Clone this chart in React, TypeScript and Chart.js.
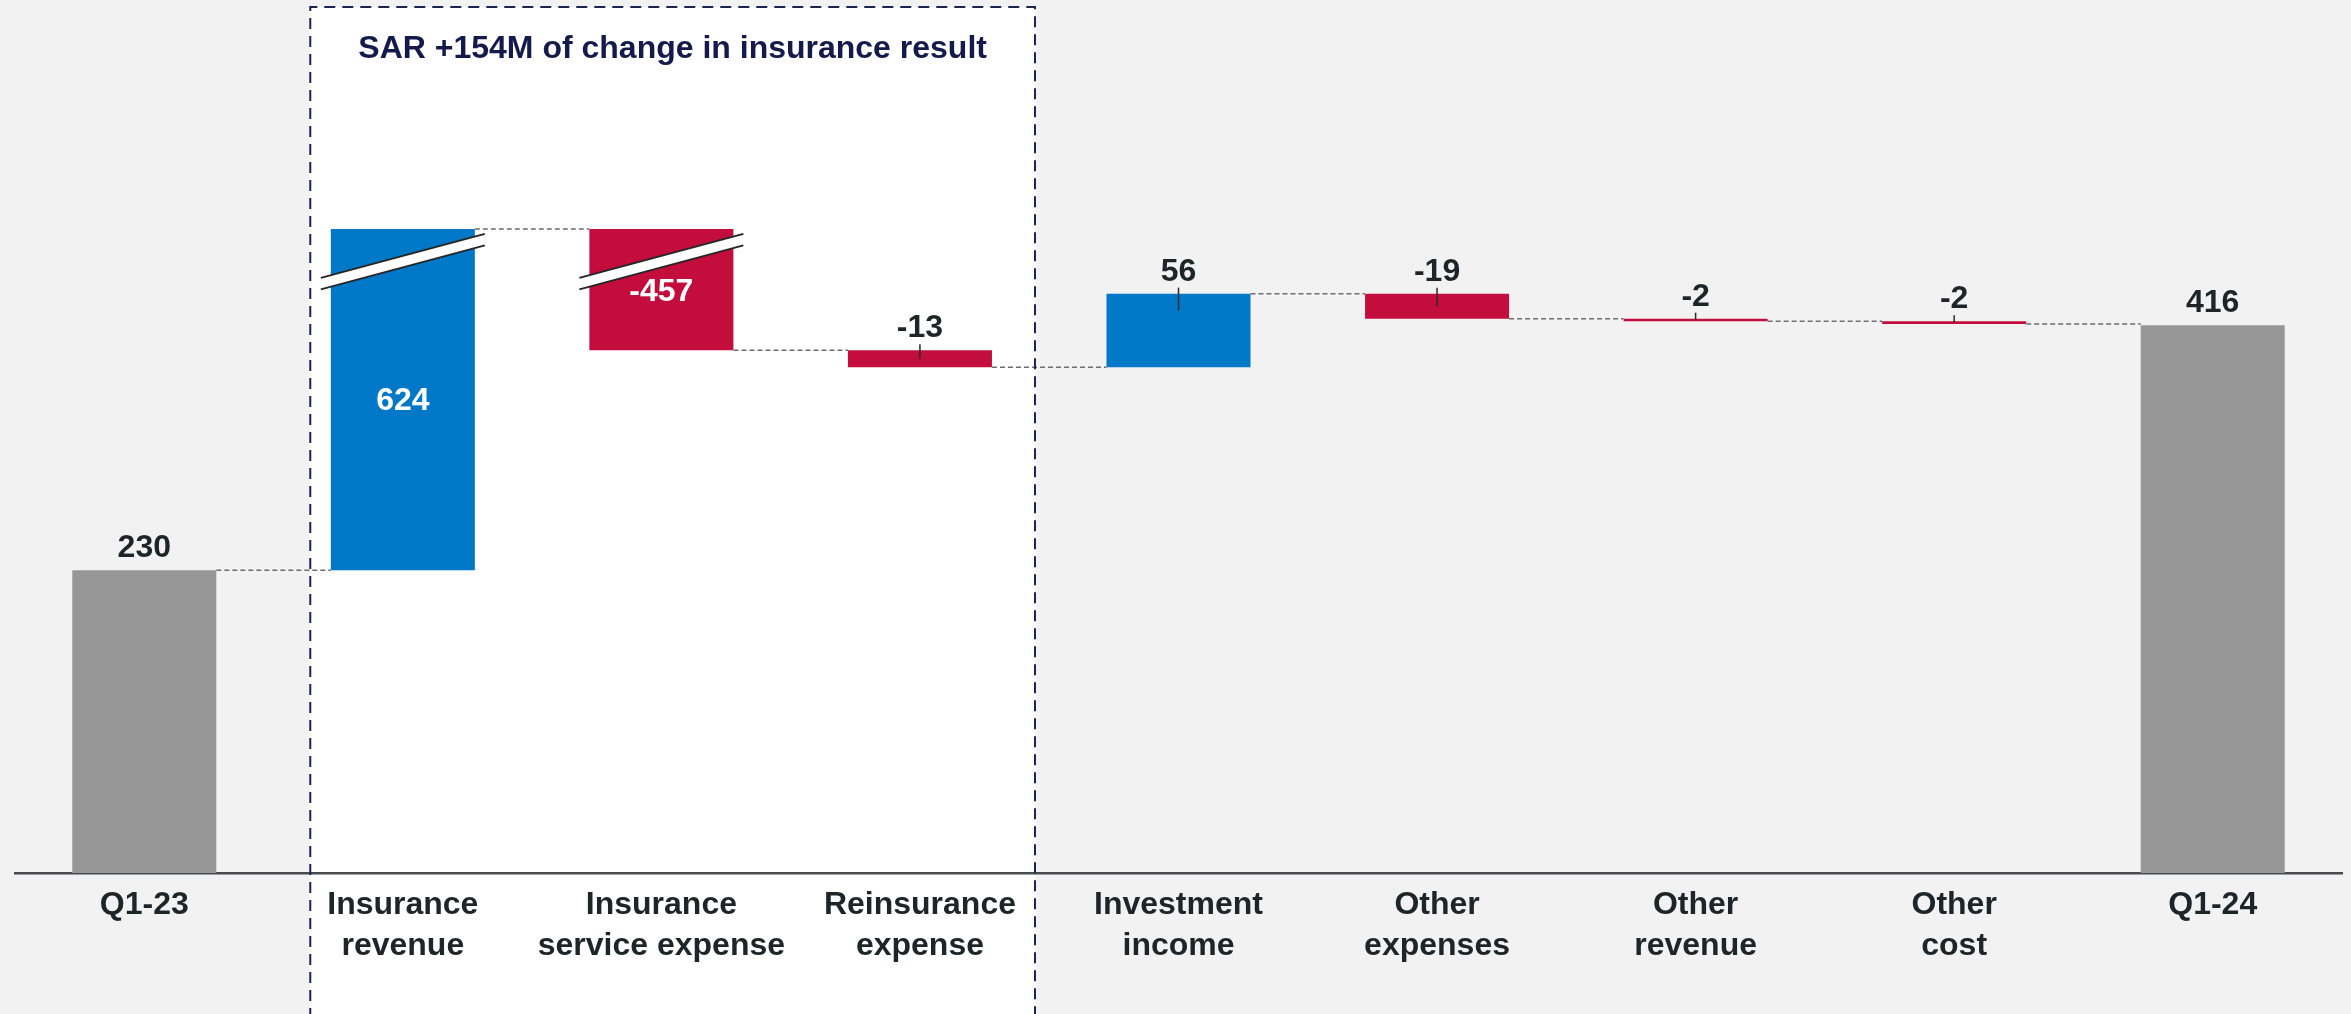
import React, { useEffect, useRef } from 'react';
import { Chart, registerables } from 'chart.js';

Chart.register(...registerables);

// ---- data ----
const categories: string[][] = [
  ['Q1-23'],
  ['Insurance', 'revenue'],
  ['Insurance', 'service expense'],
  ['Reinsurance', 'expense'],
  ['Investment', 'income'],
  ['Other', 'expenses'],
  ['Other', 'revenue'],
  ['Other', 'cost'],
  ['Q1-24'],
];
const values: number[] = [230, 624, -457, -13, 56, -19, -2, -2, 416];
const isTotal: boolean[] = [true, false, false, false, false, false, false, false, true];
const valueLabels: string[] = ['230', '624', '-457', '-13', '56', '-19', '-2', '-2', '416'];
const labelInside: boolean[] = [false, true, true, false, false, false, false, false, false];
// bars whose top is cut by an axis break, and the level where the cut top is shown
const brokenBars: number[] = [1, 2];
const brokenDisplayLevel = 489;
const titleText = 'SAR +154M of change in insurance result';
const yMin = 0;
const yMax = 663;

const COLOR_TOTAL = '#979797';
const COLOR_POS = '#0078c8';
const COLOR_NEG = '#c20d3d';
const FONT = "'Liberation Sans', Arial, Helvetica, sans-serif";

// build floating ranges
let running = 0;
const actualRanges: number[][] = values.map((v, i) => {
  if (isTotal[i]) {
    running = v;
    return [0, v];
  }
  const s = running;
  running += v;
  return [s, running];
});
const displayRanges: number[][] = actualRanges.map((r, i) => {
  if (!brokenBars.includes(i)) return r;
  const hi = Math.max(r[0], r[1]);
  return r.map((v) => (v === hi ? brokenDisplayLevel : v));
});
const barColors = values.map((v, i) => (isTotal[i] ? COLOR_TOTAL : v >= 0 ? COLOR_POS : COLOR_NEG));

const decorPlugin = {
  id: 'decor',
  beforeDraw(chart: any) {
    const { ctx, width, height } = chart;
    const xs = chart.scales.x;
    ctx.save();
    ctx.fillStyle = '#f2f2f2';
    ctx.fillRect(0, 0, width, height);
    const left = xs.getPixelForDecimal((0.642 + 0.5) / categories.length);
    const right = xs.getPixelForDecimal((3.445 + 0.5) / categories.length);
    ctx.fillStyle = '#ffffff';
    ctx.fillRect(left, 7, right - left, height);
    ctx.fillStyle = '#141a4a';
    ctx.font = `bold 32px ${FONT}`;
    ctx.textAlign = 'center';
    ctx.textBaseline = 'alphabetic';
    ctx.fillText(titleText, (left + right) / 2, 58);
    ctx.restore();
  },
  afterDatasetsDraw(chart: any) {
    const { ctx } = chart;
    const meta = chart.getDatasetMeta(0);
    const ys = chart.scales.y;
    ctx.save();
    // connectors
    ctx.strokeStyle = '#6e6e6e';
    ctx.lineWidth = 1.5;
    ctx.setLineDash([5, 3]);
    for (let i = 0; i < meta.data.length - 1; i++) {
      const a = meta.data[i];
      const b = meta.data[i + 1];
      const lvl = ys.getPixelForValue(displayRanges[i][1]);
      ctx.beginPath();
      ctx.moveTo(a.x + a.width / 2, lvl);
      ctx.lineTo(b.x - b.width / 2, lvl);
      ctx.stroke();
    }
    ctx.setLineDash([]);
    // axis-break marks
    brokenBars.forEach((i) => {
      const el = meta.data[i];
      const top = Math.min(el.y, el.base);
      const cx = el.x;
      const yc = top + 32.5;
      const hx = 82;
      const dy = 22;
      const g = 5.75;
      ctx.fillStyle = '#ffffff';
      ctx.beginPath();
      ctx.moveTo(cx - hx, yc - g + dy);
      ctx.lineTo(cx + hx, yc - g - dy);
      ctx.lineTo(cx + hx, yc + g - dy);
      ctx.lineTo(cx - hx, yc + g + dy);
      ctx.closePath();
      ctx.fill();
      ctx.strokeStyle = '#262626';
      ctx.lineWidth = 2;
      ctx.beginPath();
      ctx.moveTo(cx - hx, yc - g + dy);
      ctx.lineTo(cx + hx, yc - g - dy);
      ctx.moveTo(cx - hx, yc + g + dy);
      ctx.lineTo(cx + hx, yc + g - dy);
      ctx.stroke();
    });
    // value labels
    ctx.font = `bold 32px ${FONT}`;
    ctx.textAlign = 'center';
    meta.data.forEach((el: any, i: number) => {
      const top = Math.min(el.y, el.base);
      const bottom = Math.max(el.y, el.base);
      if (labelInside[i]) {
        ctx.fillStyle = '#ffffff';
        ctx.textBaseline = 'middle';
        const midTop = brokenBars.includes(i) ? top : top;
        ctx.fillText(valueLabels[i], el.x, (midTop + bottom) / 2 + 2);
        return;
      }
      ctx.fillStyle = '#1e2529';
      ctx.textBaseline = 'alphabetic';
      ctx.fillText(valueLabels[i], el.x, top - 13);
      if (!isTotal[i]) {
        ctx.strokeStyle = '#2a2a2a';
        ctx.lineWidth = 1.5;
        ctx.beginPath();
        ctx.moveTo(el.x, top - 6);
        ctx.lineTo(el.x, top + Math.min(17, (bottom - top) / 2));
        ctx.stroke();
      }
    });
    ctx.restore();
  },
  afterDraw(chart: any) {
    const { ctx, height } = chart;
    const xs = chart.scales.x;
    const left = xs.getPixelForDecimal((0.642 + 0.5) / categories.length);
    const right = xs.getPixelForDecimal((3.445 + 0.5) / categories.length);
    ctx.save();
    ctx.strokeStyle = '#1c2552';
    ctx.lineWidth = 2;
    ctx.setLineDash([11, 7]);
    ctx.beginPath();
    ctx.moveTo(left, height + 5);
    ctx.lineTo(left, 7);
    ctx.lineTo(right, 7);
    ctx.lineTo(right, height + 5);
    ctx.stroke();
    ctx.restore();
  },
};

export default function App() {
  const ref = useRef<HTMLCanvasElement | null>(null);
  useEffect(() => {
    if (!ref.current) return;
    const chart = new Chart(ref.current, {
      type: 'bar',
      data: {
        labels: categories,
        datasets: [
          {
            data: displayRanges as any,
            backgroundColor: barColors,
            borderWidth: 0,
            borderSkipped: false,
            categoryPercentage: 1,
            barPercentage: 0.557,
          },
        ],
      },
      options: {
        animation: false,
        responsive: false,
        maintainAspectRatio: false,
        devicePixelRatio: 1,
        layout: { padding: { left: 15, right: 9, top: 0, bottom: 0 } },
        plugins: { legend: { display: false }, tooltip: { enabled: false } },
        scales: {
          x: {
            grid: { display: false, drawTicks: false },
            border: { display: true, color: '#464b4e', width: 2.5 },
            ticks: {
              color: '#1e2529',
              font: { family: FONT, size: 32, weight: 'bold', lineHeight: 41 / 32 },
              padding: 12,
              maxRotation: 0,
              minRotation: 0,
              autoSkip: false,
            },
            afterFit: (s: any) => {
              s.height = 141;
            },
          },
          y: { display: false, min: yMin, max: yMax },
        },
      },
      plugins: [decorPlugin],
    } as any);
    return () => chart.destroy();
  }, []);
  return (
    <div style={{ position: 'fixed', left: 0, top: 0, width: 2351, height: 1014 }}>
      <canvas ref={ref} width={2351} height={1014} style={{ width: 2351, height: 1014, display: 'block' }} />
    </div>
  );
}
